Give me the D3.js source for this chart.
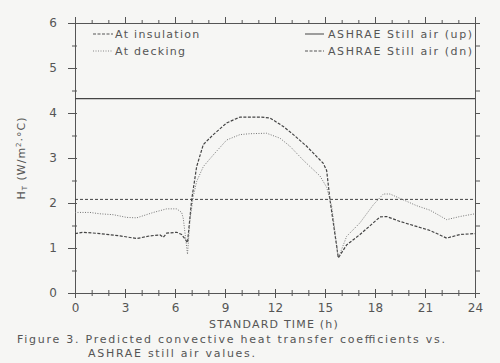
<!DOCTYPE html>
<html lang="en">
<head>
<meta charset="utf-8">
<title>Convective heat transfer coefficients</title>
<script src="https://cdn.jsdelivr.net/npm/d3@7"></script>
<style>
  body { margin: 0; background: #f6f6f4; }
  svg text { font-family: "DejaVu Sans", sans-serif; fill: #555; }
  .axis path, .axis line { stroke: #555; }
</style>
</head>
<body>
<script>
// hours / values
var insHours = [0, 0.5, 1.5, 2.7, 3.7, 4.5, 5.1, 5.3, 5.5, 6.1, 6.4, 6.6, 6.75, 7.0, 7.3, 7.7, 8.3, 9.1, 9.9, 11.1, 11.7, 12.5, 13.1, 13.9, 14.9, 15.1, 15.3, 15.8, 16.3, 17.1, 18.3, 18.7, 19.5, 20.3, 21.3, 22.3, 23.1, 24];
var insValues = [1.32, 1.35, 1.32, 1.27, 1.21, 1.27, 1.29, 1.24, 1.33, 1.35, 1.30, 1.20, 1.12, 2.07, 2.81, 3.30, 3.52, 3.78, 3.91, 3.91, 3.89, 3.70, 3.52, 3.26, 2.88, 2.72, 2.07, 0.78, 1.07, 1.30, 1.69, 1.70, 1.59, 1.50, 1.39, 1.22, 1.30, 1.32];

var deckHours = [0, 0.9, 1.5, 2.3, 3.1, 3.7, 4.7, 5.5, 6.1, 6.4, 6.5, 6.75, 6.9, 7.1, 7.3, 7.7, 8.3, 9.1, 9.9, 10.5, 11.5, 12.3, 12.9, 13.7, 14.7, 15.1, 15.4, 15.8, 16.3, 17.1, 17.9, 18.5, 18.9, 19.7, 20.5, 21.3, 22.3, 23.1, 24];
var deckValues = [1.79, 1.79, 1.76, 1.74, 1.68, 1.67, 1.79, 1.87, 1.87, 1.79, 1.65, 0.86, 1.63, 2.15, 2.48, 2.81, 3.07, 3.40, 3.52, 3.54, 3.55, 3.44, 3.26, 2.95, 2.60, 2.35, 1.93, 0.78, 1.26, 1.56, 1.96, 2.20, 2.20, 2.07, 1.94, 1.84, 1.63, 1.70, 1.76];

var ashraeUp = 4.32;
var ashraeDn = 2.08;

var xTicks = [0, 3, 6, 9, 12, 15, 18, 21, 24];
var yTicks = [0, 1, 2, 3, 4, 5, 6];

var legendLeft = ["At insulation", "At decking"];
var legendRight = ["ASHRAE Still air (up)", "ASHRAE Still air (dn)"];

var W = 500, H = 363;
var margin = {top: 23, right: 25, bottom: 70, left: 75};
var w = W - margin.left - margin.right,
    h = H - margin.top - margin.bottom;

var svg = d3.select("body").append("svg")
    .attr("width", W)
    .attr("height", H);

var g = svg.append("g")
    .attr("transform", "translate(" + margin.left + "," + margin.top + ")");

var xScale = d3.scaleLinear().domain([0, 24]).range([0, w]);
var yScale = d3.scaleLinear().domain([0, 6]).range([h, 0]);

var hours = d3.range(0, 25);
var halves = d3.range(0, 6.01, 0.5);

// top axis: ticks pointing up
g.append("g").attr("class", "axis")
  .call(d3.axisTop(xScale).tickValues(hours).tickSize(3).tickFormat(""));
g.append("g").attr("class", "axis")
  .call(d3.axisTop(xScale).tickValues(xTicks).tickSize(6).tickFormat(""));

// bottom axis: ticks crossing the line
var bottom = g.append("g").attr("class", "axis")
  .attr("transform", "translate(0," + h + ")");
bottom.append("g")
  .call(d3.axisBottom(xScale).tickValues(hours).tickSize(3).tickFormat(""))
  .selectAll(".tick line").attr("y1", -3);
bottom.append("g")
  .call(d3.axisBottom(xScale).tickValues(xTicks).tickSize(5).tickPadding(5).tickFormat(d3.format("d")))
  .call(function(s) {
    s.selectAll(".tick line").attr("y1", -4);
    s.selectAll("text").attr("font-size", "12px").style("fill", "#555");
  });

// left axis
g.append("g").attr("class", "axis")
  .call(d3.axisLeft(yScale).tickValues(halves).tickSize(3).tickFormat(""))
  .selectAll(".tick line").attr("x1", 2);
g.append("g").attr("class", "axis")
  .call(d3.axisLeft(yScale).tickValues(yTicks).tickSize(7).tickPadding(11).tickFormat(d3.format("d")))
  .selectAll("text").attr("font-size", "12px").style("fill", "#555");

// right axis: ticks outward
g.append("g").attr("class", "axis")
  .attr("transform", "translate(" + w + ",0)")
  .call(d3.axisRight(yScale).tickValues(halves).tickSize(5).tickFormat(""));

g.selectAll(".axis path").attr("stroke-width", 1);
g.selectAll(".axis line").attr("stroke-width", 1);

// ASHRAE reference lines
g.append("line")
  .attr("x1", 0).attr("x2", w)
  .attr("y1", yScale(ashraeUp)).attr("y2", yScale(ashraeUp))
  .attr("stroke", "#444").attr("stroke-width", 1.1);
g.append("line")
  .attr("x1", 0).attr("x2", w)
  .attr("y1", yScale(ashraeDn)).attr("y2", yScale(ashraeDn))
  .attr("stroke", "#444").attr("stroke-width", 1)
  .attr("stroke-dasharray", "3,2");

var line = d3.line()
  .x(function(d) { return xScale(d[0]); })
  .y(function(d) { return yScale(d[1]); });

g.append("path")
  .datum(d3.zip(insHours, insValues))
  .attr("d", line)
  .attr("fill", "none")
  .attr("stroke", "#444")
  .attr("stroke-width", 1.2)
  .attr("stroke-dasharray", "3,1.5");

g.append("path")
  .datum(d3.zip(deckHours, deckValues))
  .attr("d", line)
  .attr("fill", "none")
  .attr("stroke", "#777")
  .attr("stroke-width", 1)
  .attr("stroke-dasharray", "1,1.5");

// legend
var legStyles = [
  {stroke: "#555", dash: "3,1.5"},
  {stroke: "#888", dash: "1,1.5"},
  {stroke: "#444", dash: null},
  {stroke: "#555", dash: "3,1.5"}
];

legendLeft.forEach(function(t, i) {
  var y = 11 + i * 17;
  g.append("line")
    .attr("x1", 18).attr("x2", 38).attr("y1", y).attr("y2", y)
    .attr("stroke", legStyles[i].stroke).attr("stroke-dasharray", legStyles[i].dash);
  g.append("text")
    .attr("x", 40).attr("y", y + 4)
    .attr("font-size", "11px")
    .attr("letter-spacing", "1.3px")
    .text(t);
});

legendRight.forEach(function(t, i) {
  var y = 11 + i * 17;
  g.append("line")
    .attr("x1", 230).attr("x2", 249).attr("y1", y).attr("y2", y)
    .attr("stroke", legStyles[i + 2].stroke)
    .attr("stroke-dasharray", legStyles[i + 2].dash);
  g.append("text")
    .attr("x", 253).attr("y", y + 4)
    .attr("font-size", "11px")
    .attr("textLength", 144)
    .attr("lengthAdjust", "spacing")
    .text(t);
});

// y label
var yl = svg.append("text")
  .attr("transform", "translate(25," + (margin.top + h / 2) + ") rotate(-90)")
  .attr("text-anchor", "middle")
  .attr("font-size", "11px")
  .attr("letter-spacing", "1px");
yl.append("tspan").text("H");
yl.append("tspan").attr("font-size", "7px").attr("dy", 2).text("T");
yl.append("tspan").attr("dy", -2).text(" (W/m");
yl.append("tspan").attr("font-size", "7px").attr("dy", -4).text("2");
yl.append("tspan").attr("dy", 4).text("·°C)");

// x label
svg.append("text")
  .attr("x", margin.left + w / 2 - 1).attr("y", 328)
  .attr("text-anchor", "middle")
  .attr("font-size", "11px")
  .attr("letter-spacing", "1.2px")
  .text("STANDARD TIME (h)");

// caption
svg.append("text")
  .attr("x", 17).attr("y", 343)
  .attr("font-size", "11px")
  .attr("textLength", 428)
  .attr("lengthAdjust", "spacing")
  .text("Figure 3.  Predicted convective heat transfer coefficients vs.");
svg.append("text")
  .attr("x", 88).attr("y", 357)
  .attr("font-size", "11px")
  .attr("textLength", 167)
  .attr("lengthAdjust", "spacing")
  .text("ASHRAE still air values.");
</script>
</body>
</html>
